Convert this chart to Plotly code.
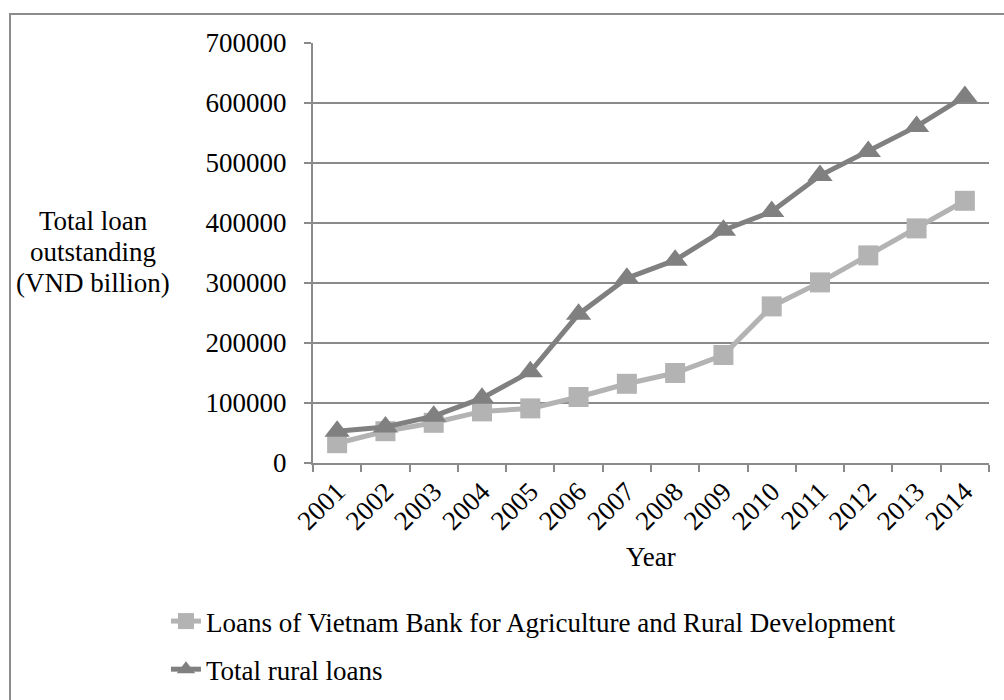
import plotly.graph_objects as go

years = ["2001", "2002", "2003", "2004", "2005", "2006", "2007",
         "2008", "2009", "2010", "2011", "2012", "2013", "2014"]
vbard_loans = [33000, 53000, 67000, 86000, 91000, 110000, 132000,
               150000, 180000, 261000, 301000, 346000, 391000, 437000]
total_rural_loans = [53000, 60000, 78000, 108000, 152000, 248000, 308000,
                     338000, 388000, 419000, 479000, 519000, 561000, 611000]
y_ticks = [0, 100000, 200000, 300000, 400000, 500000, 600000, 700000]
y_title_lines = ["Total loan", "outstanding", "(VND billion)"]

FONT = "Liberation Serif, Times New Roman, serif"
FS = 27
LIGHT = "#b3b3b3"
DARK = "#808080"
AXIS = "#8a8a8a"

fig = go.Figure()
fig.add_trace(go.Scatter(
    x=years, y=vbard_loans, mode="lines+markers",
    name="Loans of Vietnam Bank for Agriculture and Rural Development",
    line=dict(color=LIGHT, width=5),
    marker=dict(symbol="square", size=20, color=LIGHT),
    legendgroup="a",
))
fig.add_trace(go.Scatter(
    x=years, y=total_rural_loans, mode="lines+markers",
    name="Total rural loans",
    line=dict(color=DARK, width=5),
    marker=dict(symbol="triangle-up", size=22, color=DARK),
    legendgroup="b",
))

annotations = []
for txt, yp in zip(y_title_lines, [0.576, 0.502, 0.428]):
    annotations.append(dict(
        text=txt, xref="paper", yref="paper", x=-0.325, y=yp,
        xanchor="center", yanchor="middle", showarrow=False,
        font=dict(family=FONT, size=FS, color="black")))
annotations.append(dict(
    text="Year", xref="paper", yref="paper", x=0.5, y=-0.224,
    xanchor="center", yanchor="middle", showarrow=False,
    font=dict(family=FONT, size=FS, color="black")))

fig.update_layout(
    width=1004, height=700,
    margin=dict(l=313, r=15, t=43, b=237, autoexpand=False),
    paper_bgcolor="white", plot_bgcolor="white",
    font=dict(family=FONT, size=FS, color="black"),
    showlegend=True,
    legend=dict(
        xref="container", yref="container",
        x=0.1653, y=0.1471, xanchor="left", yanchor="top",
        orientation="v", tracegroupgap=10,
        font=dict(family=FONT, size=FS, color="black"),
        bgcolor="rgba(0,0,0,0)",
    ),
    xaxis=dict(
        type="category", range=[-0.5, 13.5], automargin=False,
        tickson="boundaries", ticks="outside", ticklen=7, tickcolor=AXIS, tickwidth=2,
        showline=True, linecolor=AXIS, linewidth=2,
        showgrid=False, tickangle=-45,
        tickfont=dict(family=FONT, size=FS, color="black"),
    ),
    yaxis=dict(
        range=[0, 700000], tickvals=y_ticks, automargin=False,
        ticktext=[str(v) for v in y_ticks],
        ticks="outside", ticklen=7, tickcolor=AXIS, tickwidth=2,
        showline=True, linecolor=AXIS, linewidth=2,
        showgrid=True, gridcolor=AXIS, gridwidth=1.5,
        zeroline=False, ticklabelstandoff=12,
        tickfont=dict(family=FONT, size=FS, color="black"),
    ),
    annotations=annotations,
    shapes=[
        dict(type="rect", xref="paper", yref="paper",
             x0=-0.4482, y0=-0.75, x1=1.2, y1=1.069,
             line=dict(color="#8c8c8c", width=2), fillcolor="rgba(0,0,0,0)",
             layer="below"),
    ],
)

fig.write_html("out.html")
